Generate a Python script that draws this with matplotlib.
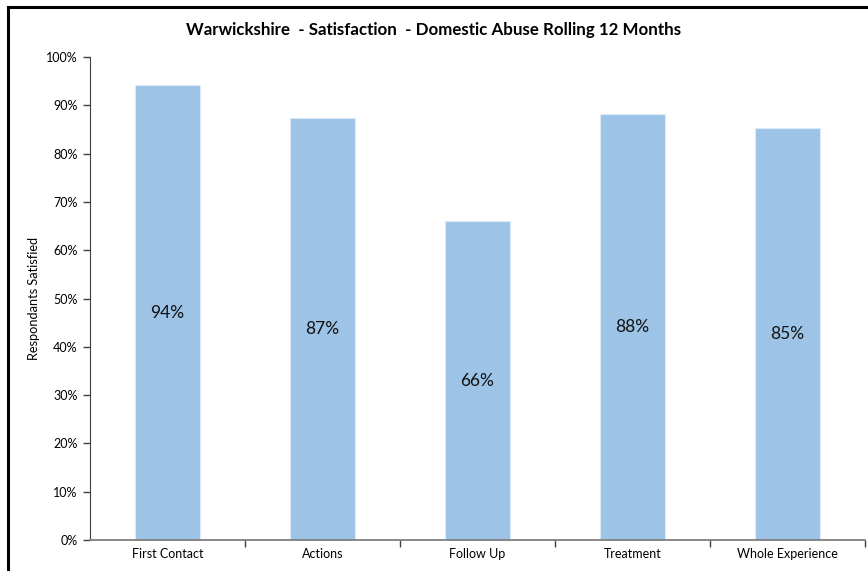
import matplotlib
matplotlib.use("Agg")
import matplotlib.pyplot as plt
from matplotlib.patches import Rectangle
from matplotlib.ticker import PercentFormatter, FixedLocator

categories = ["First Contact", "Actions", "Follow Up", "Treatment", "Whole Experience"]
values = [94.2, 87.4, 66.0, 88.1, 85.4]
labels = ["94%", "87%", "66%", "88%", "85%"]
yticks = [0, 10, 20, 30, 40, 50, 60, 70, 80, 90, 100]

plt.rcParams['font.family'] = ['Lato', 'DejaVu Sans']

fig = plt.figure(figsize=(8.68, 5.71), dpi=100)
ax = fig.add_axes([90/868, 1-540/571, (865-90)/868, (540-57)/571])

x = list(range(len(categories)))
ax.bar(x, values, width=0.425, color="#9DC3E6", edgecolor="#DCEAF7", linewidth=0.8, zorder=2)
for xi, v, lab in zip(x, values, labels):
    ax.text(xi, v/2, lab, ha="center", va="center", fontsize=12.5, color="#111111")

ax.set_xlim(-0.5, len(categories)-0.5)
ax.set_ylim(0, 100)
ax.set_yticks(yticks)
ax.yaxis.set_major_formatter(PercentFormatter(decimals=0))
ax.set_xticks(x)
ax.set_xticklabels(categories)
ax.xaxis.set_minor_locator(FixedLocator([i+0.5 for i in range(len(categories))]))
ax.tick_params(axis="x", which="major", length=0, pad=6, labelsize=9)
ax.tick_params(axis="x", which="minor", length=5, width=1, color="#404040", direction="out")
ax.tick_params(axis="y", length=5, width=1, color="#404040", labelsize=9, pad=4)

for s in ["top", "right"]:
    ax.spines[s].set_visible(False)
ax.spines["left"].set_color("#404040")
ax.spines["bottom"].set_color("#7F7F7F")
ax.spines["bottom"].set_linewidth(1.3)

ax.set_ylabel("Respondants Satisfied", fontsize=9.2, labelpad=4)
fig.text(0.5, 1-30/571, "Warwickshire  - Satisfaction  - Domestic Abuse Rolling 12 Months",
         ha="center", va="center", fontsize=12.2, fontweight="bold")

fig.patches.append(Rectangle((8/868, -0.1), 1.2, 1.1 - 7/571, transform=fig.transFigure,
                             fill=False, edgecolor="black", linewidth=2.2))

fig.savefig("out.png", dpi=100)
